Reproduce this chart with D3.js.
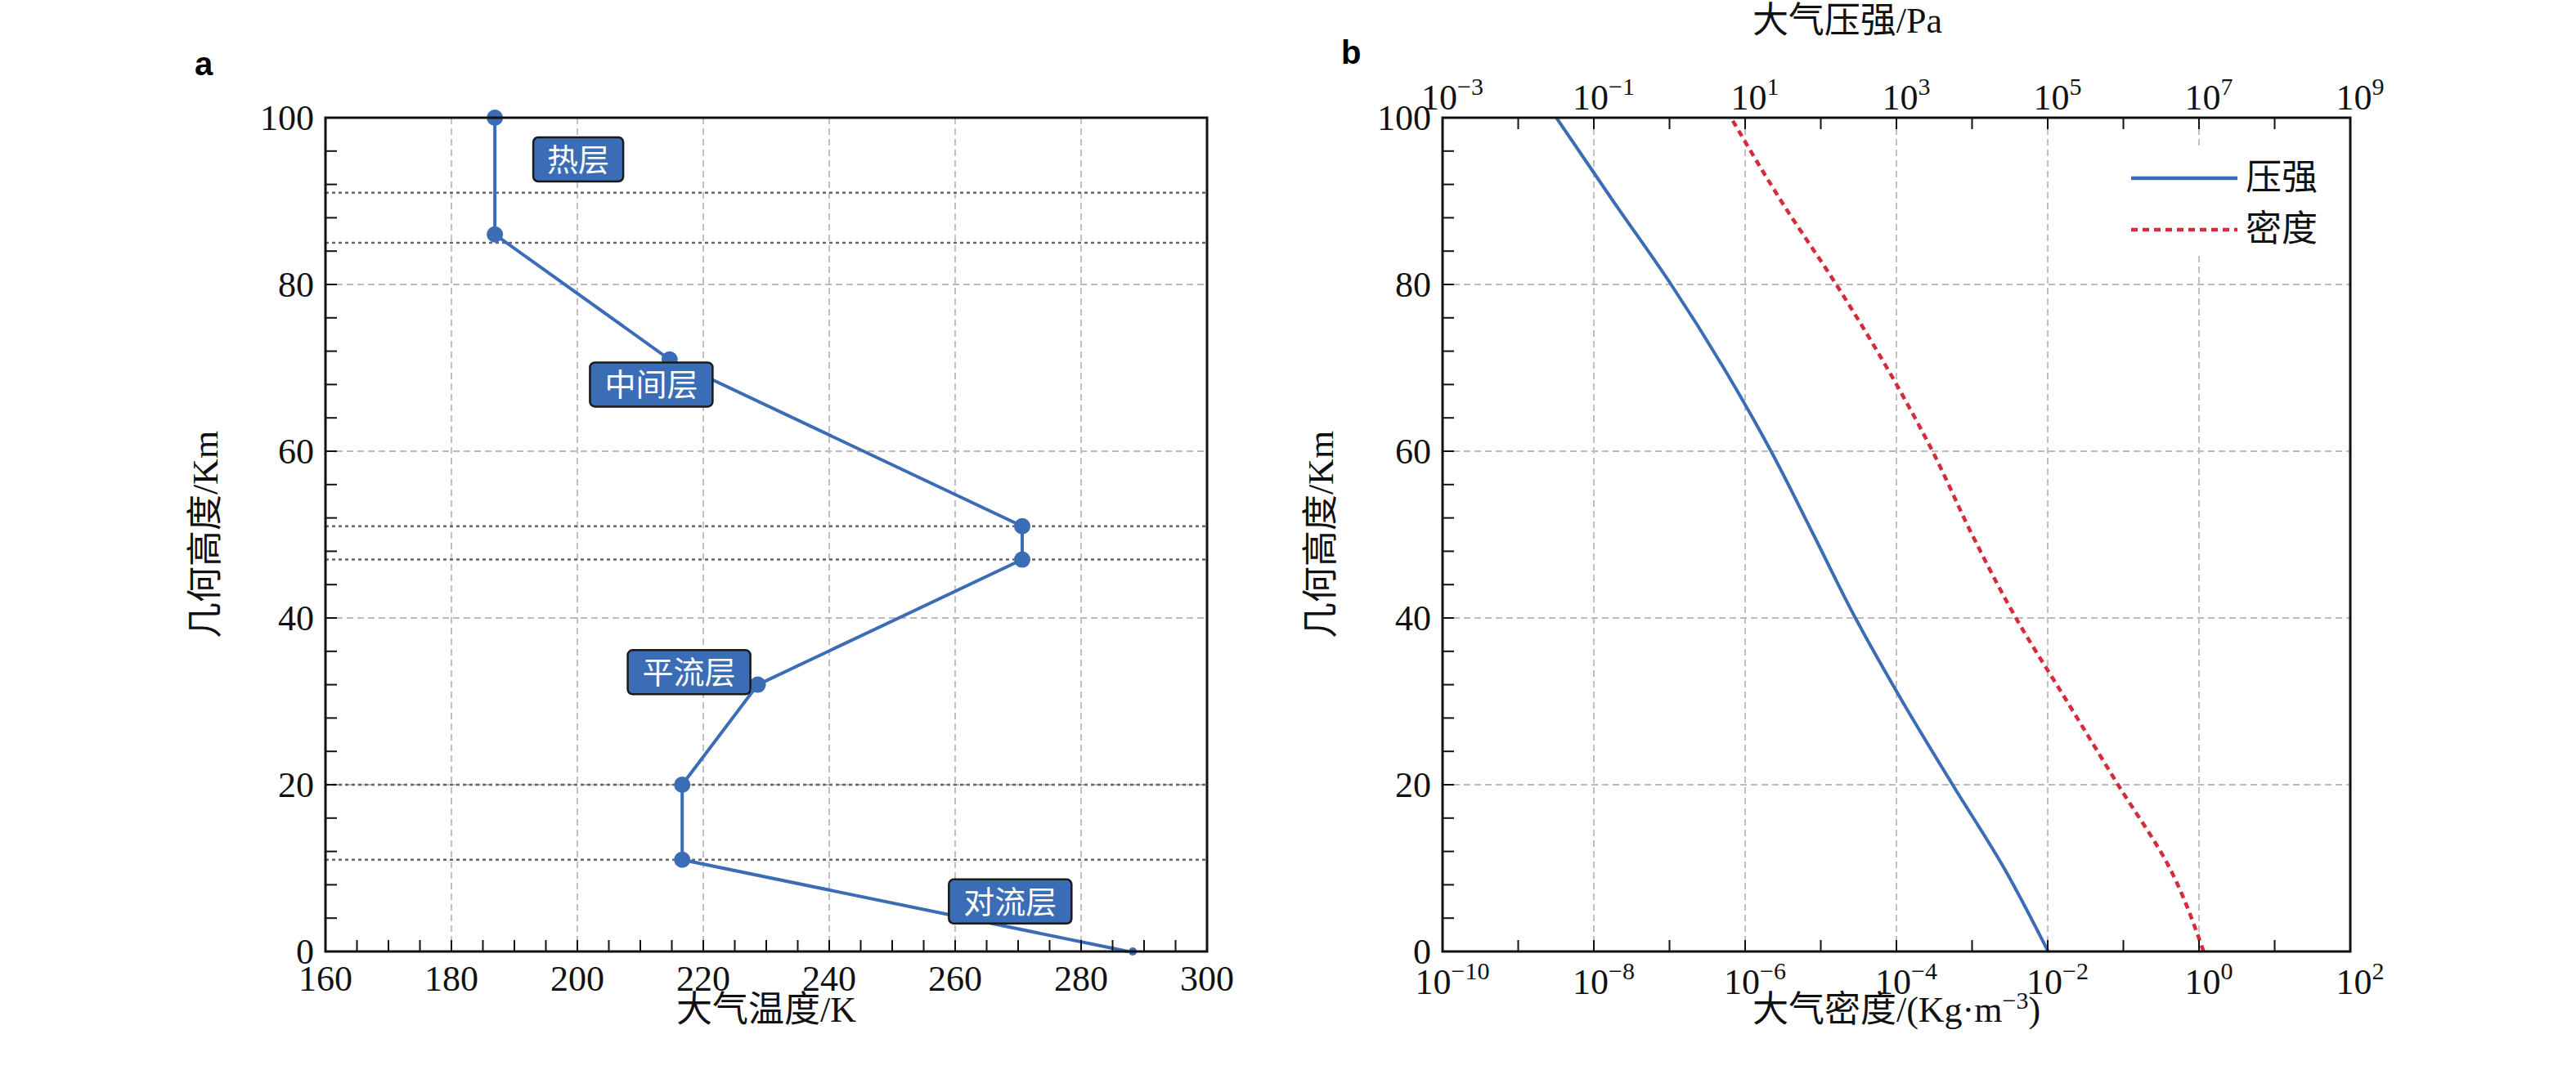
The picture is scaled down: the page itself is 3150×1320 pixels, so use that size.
<!DOCTYPE html>
<html><head><meta charset="utf-8">
<script src="https://cdn.jsdelivr.net/npm/d3@7"></script>
<style>body{margin:0;background:#fff}</style>
</head><body>
<svg id="c" width="3150" height="1320"></svg>
<script>
// panel a: temperature profile
const tempAlt = [0, 11, 20, 32, 47, 51, 71, 86, 100]
const tempK   = [287.5, 216.65, 216.65, 228.65, 270.65, 270.65, 214.65, 186.9, 186.9]
const layerLines = [11, 20, 47, 51, 85, 91]
const layerNames = ['热层', '中间层', '平流层', '对流层']
const layerPos = [[193, 95], [202, 68], [208, 33.5], [259, 6]]  // label anchor (K, km)

// panel b: pressure / density
const altB     = [0, 10, 20, 30, 40, 50, 60, 70, 80, 90, 100]
const pressure = [101325, 26500, 5529, 1197, 287, 80, 22, 5.2, 1.05, 0.18, 0.032]
const density  = [1.15, 0.41, 0.085, 0.018, 0.0038, 0.001, 0.0003, 7.5e-5, 1.6e-5, 3e-6, 6.5e-7]

const svg = d3.select('#c')
const serif = '"Liberation Serif","DejaVu Serif","Noto Sans CJK SC",serif'
const blue = '#3a6db5', red = '#d62b3a'
const yTop = 144, yBot = 1164

function frame(g, x0, x1) {
  g.append('rect').attr('x', x0).attr('y', yTop).attr('width', x1 - x0).attr('height', yBot - yTop)
    .attr('fill', 'none').attr('stroke', '#111').attr('stroke-width', 3)
}
function ticksIn(g, scale, vals, len, orient, pos) {
  vals.forEach(v => {
    const p = scale(v)
    if (orient === 'x') g.append('line').attr('x1', p).attr('x2', p).attr('y1', pos).attr('y2', pos + len)
    else g.append('line').attr('y1', p).attr('y2', p).attr('x1', pos).attr('x2', pos + len)
  })
  g.selectAll('line').attr('stroke', '#111').attr('stroke-width', 2)
}

// ---------- panel a
{
  const x = d3.scaleLinear().domain([160, 300]).range([398, 1476])
  const y = d3.scaleLinear().domain([0, 100]).range([yBot, yTop])
  const g = svg.append('g')
  const grid = g.append('g').attr('stroke', '#bbb').attr('stroke-width', 1.8).attr('stroke-dasharray', '8,5')
  d3.range(180, 300, 20).forEach(v => grid.append('line').attr('x1', x(v)).attr('x2', x(v)).attr('y1', yTop).attr('y2', yBot))
  d3.range(20, 100, 20).forEach(v => grid.append('line').attr('y1', y(v)).attr('y2', y(v)).attr('x1', x(160)).attr('x2', x(300)))
  layerLines.forEach(v => g.append('line').attr('y1', y(v)).attr('y2', y(v)).attr('x1', x(160)).attr('x2', x(300))
    .attr('stroke', '#666').attr('stroke-width', 2.5).attr('stroke-dasharray', '4,4'))
  const pts = tempAlt.map((a, i) => [tempK[i], a])
  g.append('path').datum(pts).attr('fill', 'none').attr('stroke', blue).attr('stroke-width', 4)
    .attr('d', d3.line().x(d => x(d[0])).y(d => y(d[1])))
  g.selectAll('circle').data(pts.slice(1)).join('circle').attr('cx', d => x(d[0])).attr('cy', d => y(d[1])).attr('r', 10).attr('fill', blue)
  g.append('circle').attr('cx', x(288.2)).attr('cy', y(0)).attr('r', 5).attr('fill', blue)
  layerNames.forEach((n, i) => {
    const px = x(layerPos[i][0]), py = y(layerPos[i][1])
    const w = n.length * 40 + 30
    g.append('rect').attr('x', px).attr('y', py - 27).attr('width', w).attr('height', 54).attr('rx', 6)
      .attr('fill', blue).attr('stroke', '#1a1a1a').attr('stroke-width', 2.5)
    g.append('text').attr('x', px + w / 2).attr('y', py + 14).attr('text-anchor', 'middle')
      .attr('fill', '#fff').attr('font-size', 38).attr('font-family', serif).text(n)
  })
  frame(g, 398, 1476)
  const t = g.append('g')
  ticksIn(t, x, d3.range(165, 300, 5), -14, 'x', yBot)
  ticksIn(t, y, d3.range(4, 100, 4), 14, 'y', 398)
  const lab = g.append('g').attr('font-family', serif).attr('font-size', 44).attr('fill', '#111')
  d3.range(160, 301, 20).forEach(v => lab.append('text').attr('x', x(v)).attr('y', yBot + 48).attr('text-anchor', 'middle').text(v))
  d3.range(0, 101, 20).forEach(v => lab.append('text').attr('x', 384).attr('y', y(v) + 15).attr('text-anchor', 'end').text(v))
  lab.append('text').attr('x', x(230)).attr('y', 1250).attr('text-anchor', 'middle').text('大气温度/K')
  lab.append('text').attr('transform', `translate(266,${y(50)}) rotate(-90)`).attr('text-anchor', 'middle').text('几何高度/Km')
  svg.append('text').attr('x', 238).attr('y', 92).attr('font-family', 'Liberation Sans,Arial').attr('font-weight', 'bold').attr('font-size', 40).text('a')
}

// ---------- panel b
{
  const x0 = 1764, x1 = 2874
  const xd = d3.scaleLog().domain([1e-10, 1e2]).range([x0, x1])
  const xp = d3.scaleLog().domain([1e-3, 1e9]).range([x0, x1])
  const y = d3.scaleLinear().domain([0, 100]).range([yBot, yTop])
  const g = svg.append('g')
  const grid = g.append('g').attr('stroke', '#bbb').attr('stroke-width', 1.8).attr('stroke-dasharray', '8,5')
  d3.range(-8, 2, 2).forEach(e => grid.append('line').attr('x1', xd(10 ** e)).attr('x2', xd(10 ** e)).attr('y1', yTop).attr('y2', yBot))
  d3.range(20, 100, 20).forEach(v => grid.append('line').attr('y1', y(v)).attr('y2', y(v)).attr('x1', x0).attr('x2', x1))
  const line = sc => d3.line().curve(d3.curveMonotoneY).x(d => sc(d[0])).y(d => y(d[1]))
  g.append('path').datum(altB.map((a, i) => [pressure[i], a])).attr('fill', 'none').attr('stroke', blue).attr('stroke-width', 4).attr('d', line(xp))
  g.append('path').datum(altB.map((a, i) => [density[i], a])).attr('fill', 'none').attr('stroke', red).attr('stroke-width', 4.5)
    .attr('stroke-dasharray', '8,6').attr('d', line(xd))
  // legend
  const lg = g.append('g')
  lg.append('rect').attr('x', 2590).attr('y', 180).attr('width', 270).attr('height', 130).attr('fill', '#fff')
  lg.append('line').attr('x1', 2606).attr('x2', 2736).attr('y1', 218).attr('y2', 218).attr('stroke', blue).attr('stroke-width', 4.5)
  lg.append('line').attr('x1', 2606).attr('x2', 2736).attr('y1', 281).attr('y2', 281).attr('stroke', red).attr('stroke-width', 4.5).attr('stroke-dasharray', '8,6')
  lg.append('text').attr('x', 2746).attr('y', 232).text('压强')
  lg.append('text').attr('x', 2746).attr('y', 295).text('密度')
  lg.selectAll('text').attr('font-family', serif).attr('font-size', 44).attr('fill', '#111')
  frame(g, x0, x1)
  const t = g.append('g')
  ticksIn(t, xd, d3.range(-9, 2, 1).map(e => 10 ** e), -14, 'x', yBot)
  ticksIn(t, xp, d3.range(-2, 9, 1).map(e => 10 ** e), 14, 'x', yTop)
  ticksIn(t, y, d3.range(4, 100, 4), 14, 'y', x0)
  const lab = g.append('g').attr('font-family', serif).attr('font-size', 44).attr('fill', '#111')
  const sup = (sel, xx, yy, e) => {
    const tx = sel.append('text').attr('x', xx).attr('y', yy).attr('text-anchor', 'middle')
    tx.append('tspan').text('10')
    tx.append('tspan').attr('dy', -18).attr('font-size', 30).text(e < 0 ? '−' + (-e) : e)
  }
  d3.range(-10, 3, 2).forEach(e => sup(lab, xd(10 ** e) + 12, yBot + 52, e))
  d3.range(-3, 10, 2).forEach(e => sup(lab, xp(10 ** e) + 12, yTop - 10, e))
  d3.range(0, 101, 20).forEach(v => lab.append('text').attr('x', x0 - 14).attr('y', y(v) + 15).attr('text-anchor', 'end').text(v))
  const xl = lab.append('text').attr('x', (x0 + x1) / 2).attr('y', 1250).attr('text-anchor', 'middle')
  xl.append('tspan').text('大气密度/(Kg·m')
  xl.append('tspan').attr('dy', -16).attr('font-size', 30).text('−3')
  xl.append('tspan').attr('dy', 16).text(')')
  lab.append('text').attr('x', (x0 + x1) / 2 - 60).attr('y', 40).attr('text-anchor', 'middle').text('大气压强/Pa')
  lab.append('text').attr('transform', `translate(1630,${y(50)}) rotate(-90)`).attr('text-anchor', 'middle').text('几何高度/Km')
  svg.append('text').attr('x', 1640).attr('y', 78).attr('font-family', 'Liberation Sans,Arial').attr('font-weight', 'bold').attr('font-size', 40).text('b')
}
</script>
</body></html>
